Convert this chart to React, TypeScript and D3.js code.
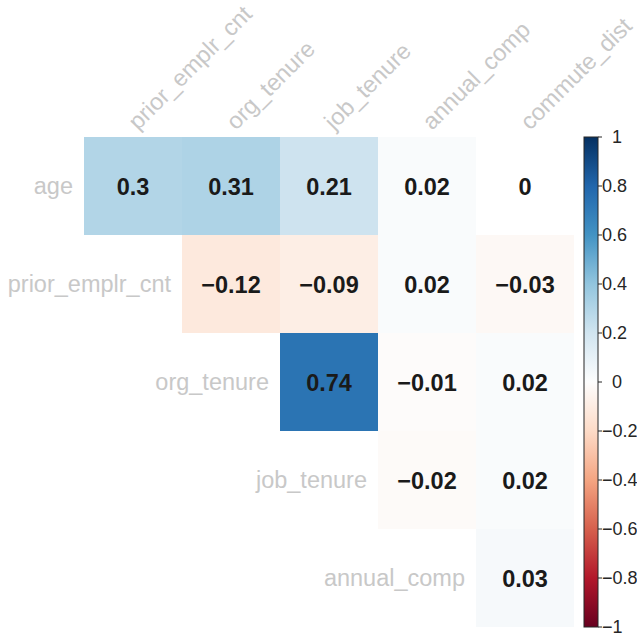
import React from "react";
import * as d3 from "d3";

const rowLabels = ["age", "prior_emplr_cnt", "org_tenure", "job_tenure", "annual_comp"];
const colLabels = ["prior_emplr_cnt", "org_tenure", "job_tenure", "annual_comp", "commute_dist"];
const corrAge = [0.3, 0.31, 0.21, 0.02, 0];
const corrPrior = [null, -0.12, -0.09, 0.02, -0.03];
const corrOrg = [null, null, 0.74, -0.01, 0.02];
const corrJob = [null, null, null, -0.02, 0.02];
const corrComp = [null, null, null, null, 0.03];
const corrRows = [corrAge, corrPrior, corrOrg, corrJob, corrComp];
const colorbarTicks = [1, 0.8, 0.6, 0.4, 0.2, 0, -0.2, -0.4, -0.6, -0.8, -1];
const rdbuStops = ["#67001f", "#b2182b", "#d6604d", "#f4a582", "#fddbc7", "#fdfdfd", "#d1e5f0", "#92c5de", "#4393c3", "#2166ac", "#053061"];

const W = 637;
const H = 636;
const FONT = "'Liberation Sans', Arial, Helvetica, sans-serif";

export default function App() {
  const x = d3.scaleBand<string>().domain(colLabels).range([84, 574]).padding(0);
  const y = d3.scaleBand<string>().domain(rowLabels).range([137, 627]).padding(0);
  const color = d3
    .scaleLinear<string>()
    .domain(d3.range(11).map((i) => -1 + i * 0.2))
    .range(rdbuStops)
    .interpolate(d3.interpolateRgb);
  const cbY = d3.scaleLinear().domain([-1, 1]).range([627, 137]);
  const cbX0 = 584;
  const cbW = 14;
  const fmt = (v: number) => {
    const r = Math.round(v * 100) / 100;
    const s = d3.format("")(r);
    return s.replace("-", "\u2212");
  };
  const gradStops = d3.range(0, 1.0001, 0.05);

  const cells: React.ReactNode[] = [];
  corrRows.forEach((row, ri) => {
    row.forEach((v, ci) => {
      if (v === null) return;
      const cx = x(colLabels[ci])!;
      const cy = y(rowLabels[ri])!;
      cells.push(
        <g key={`c-${ri}-${ci}`}>
          <rect x={cx} y={cy} width={x.bandwidth()} height={y.bandwidth()} fill={v === 0 ? "#ffffff" : color(v)} />
          <text
            x={cx + x.bandwidth() / 2}
            y={cy + y.bandwidth() / 2 + 1}
            textAnchor="middle"
            dominantBaseline="central"
            fontFamily={FONT}
            fontWeight="bold"
            fontSize={23.5}
            fill="#1a1a1a"
          >
            {fmt(v)}
          </text>
        </g>
      );
    });
  });

  return (
    <svg width={W} height={H} style={{ position: "absolute", left: 0, top: 0, background: "#fff" }}>
      <defs>
        <linearGradient id="cb" x1="0" y1="1" x2="0" y2="0">
          {gradStops.map((t) => (
            <stop key={t} offset={`${t * 100}%`} stopColor={color(-1 + 2 * t)} />
          ))}
        </linearGradient>
      </defs>
      {cells}
      {rowLabels.map((r, ri) => (
        <text
          key={`rl-${r}`}
          x={x(colLabels[ri])! - 11}
          y={y(r)! + y.bandwidth() / 2}
          textAnchor="end"
          dominantBaseline="central"
          fontFamily={FONT}
          fontSize={23.5}
          fill="#c8c8c8"
        >
          {r}
        </text>
      ))}
      {colLabels.map((c) => {
        const ax = x(c)! + x.bandwidth() / 2 + 5;
        const ay = 137 - 6;
        return (
          <text
            key={`cl-${c}`}
            x={ax}
            y={ay}
            transform={`rotate(-45 ${ax} ${ay})`}
            textAnchor="start"
            fontFamily={FONT}
            fontSize={23.5}
            fill="#c8c8c8"
          >
            {c}
          </text>
        );
      })}
      <rect x={cbX0} y={cbY(1)} width={cbW} height={cbY(-1) - cbY(1)} fill="url(#cb)" stroke="#262626" strokeWidth={1} />
      {colorbarTicks.map((t) => {
        const label = fmt(t);
        const pad = t >= 0 && Number.isInteger(t) ? 10 : 0;
        return (
          <g key={`t-${t}`}>
            <line x1={cbX0 + cbW} x2={cbX0 + cbW + 4} y1={cbY(t)} y2={cbY(t)} stroke="#262626" strokeWidth={1} />
            <text
              x={cbX0 + cbW + 4 + pad}
              y={cbY(t)}
              dominantBaseline="central"
              fontFamily={FONT}
              fontSize={18}
              fill="#262626"
            >
              {label}
            </text>
          </g>
        );
      })}
    </svg>
  );
}
